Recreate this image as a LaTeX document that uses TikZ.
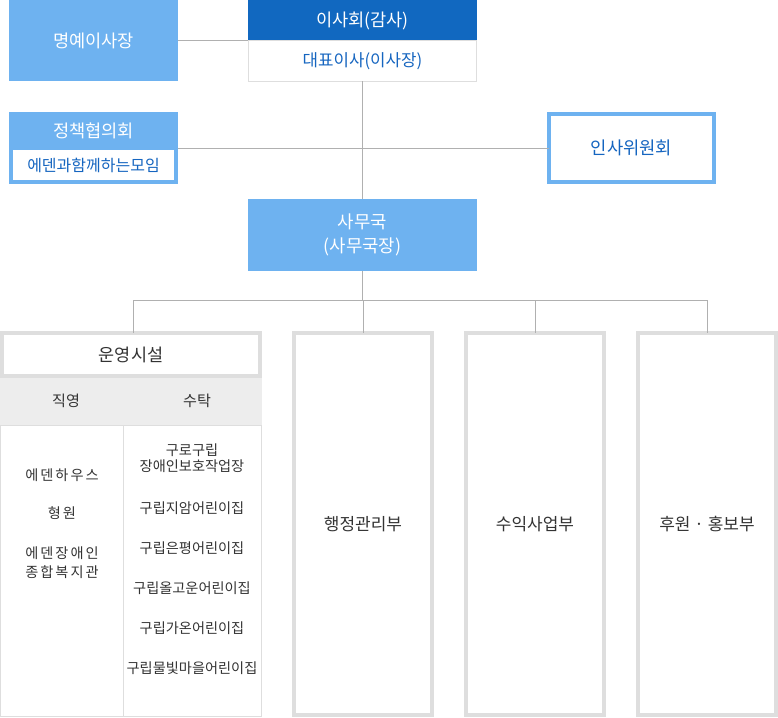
\documentclass[tikz,border=0pt]{standalone}
\usepackage{fontspec}
\setmainfont{Noto Sans CJK KR}
\definecolor{darkblue}{HTML}{1168C0}
\definecolor{lightblue}{HTML}{6EB2F0}
\definecolor{textblue}{HTML}{1565C0}
\definecolor{conn}{HTML}{B0B0B0}
\definecolor{boxgray}{HTML}{DEDEDE}
\definecolor{bandgray}{HTML}{EDEDED}
\definecolor{txt}{HTML}{333333}
\newcommand{\gp}{\hspace{2pt}}
\tikzset{
  base/.style={inner sep=0pt, outer sep=0pt, align=center},
  lbfill/.style={base, fill=lightblue, text=white, font=\fontsize{17.6}{21}\selectfont},
  dbfill/.style={base, fill=darkblue, text=white, font=\fontsize{17.6}{21}\selectfont},
  whitebox/.style={base, fill=white, draw=boxgray, line width=1pt, text=textblue, font=\fontsize{16.8}{20}\selectfont},
  thickbox/.style={base, fill=white, draw=boxgray, line width=4pt, text=txt, font=\fontsize{17}{20}\selectfont},
  bluebox/.style={base, fill=white, draw=lightblue, line width=4pt, text=textblue, font=\fontsize{17.7}{21}\selectfont},
  conline/.style={draw=conn, line width=1pt},
  cell/.style={base, text=txt, font=\fontsize{14.2}{17}\selectfont},
}
\begin{document}
\begin{tikzpicture}[x=1pt,y=-1pt]
\useasboundingbox (0,0) rectangle (778,717);
% top row
\node[lbfill, minimum width=169pt, minimum height=81pt] (myeong) at (93.5,40.5) {명예이사장};
\node[dbfill, minimum width=229pt, minimum height=41pt] (isa) at (362.5,20.5) {이사회(감사)};
\node[whitebox, minimum width=228pt, minimum height=40pt] (daepyo) at (362.5,61) {대표이사(이사장)};
% second row
\node[lbfill, minimum width=169pt, minimum height=72pt] (jeong) at (93.5,148) {};
\node[base, text=white, font=\fontsize{17.6}{21}\selectfont] (jeongt) at (93.5,131) {정책협의회};
\node[base, fill=white, text=textblue, font=\fontsize{16}{19}\selectfont, minimum width=161pt, minimum height=30pt] (eden) at (93.5,165) {에덴과함께하는모임};
\node[bluebox, minimum width=165pt, minimum height=68pt] (insa) at (631.5,148) {인사위원회};
% samu
\node[lbfill, minimum width=229pt, minimum height=72pt, font=\fontsize{17.8}{21}\selectfont] (samu) at (362.5,235) {사무국\\[3pt](사무국장)};
\coordinate (bus) at (362.5,300);
% connectors
\draw[conline] (myeong.east) -- (myeong.east -| isa.west);
\draw[conline] (jeong.east) -- (insa.west);
\draw[conline] (daepyo.south) -- (samu.north);
% dept boxes
\node[thickbox, minimum width=258pt, minimum height=43pt, font=\fontsize{17.5}{21}\selectfont] (unyeong) at (131,354.5) {운영시설};
\node[base, fill=bandgray, minimum width=262pt, minimum height=47pt] (band) at (131,401.5) {};
\node[cell, font=\fontsize{15.1}{18}\selectfont] (jik) at (66,401) {직영};
\node[cell, font=\fontsize{15.1}{18}\selectfont] (sutak) at (197,401) {수탁};
\node[base, draw=boxgray, line width=1pt, minimum width=261pt, minimum height=291pt] (lower) at (131,570.5) {};
\coordinate (divtop) at (123,425);
\draw[draw=boxgray, line width=1pt] (divtop) -- (divtop |- lower.south);
\node[cell] at (62,475) {에\gp 덴\gp 하\gp 우\gp 스};
\node[cell] at (62,513) {형\gp 원};
\node[cell, align=center] at (62,563) {에\gp 덴\gp 장\gp 애\gp 인\\[2pt]종\gp 합\gp 복\gp 지\gp 관};
\node[cell] at (192,458.5) {구로구립\\[-1pt]장애인보호작업장};
\node[cell] at (192,508) {구립지암어린이집};
\node[cell] at (192,548) {구립은평어린이집};
\node[cell] at (192,588) {구립올고운어린이집};
\node[cell] at (192,628) {구립가온어린이집};
\node[cell] at (192,668) {구립물빛마을어린이집};
\node[thickbox, minimum width=138pt, minimum height=382pt] (haeng) at (363,524) {행정관리부};
\node[thickbox, minimum width=138pt, minimum height=382pt] (suik) at (535,524) {수익사업부};
\node[thickbox, minimum width=138pt, minimum height=382pt] (huwon) at (707,524) {후원 · 홍보부};
% bus connectors
\draw[conline] (samu.south) -- (bus);
\draw[conline] ([xshift=2pt]unyeong.north |- bus) -- (huwon.north |- bus);
\draw[conline] ([xshift=2pt]unyeong.north |- bus) -- ([xshift=2pt]unyeong.north);
\draw[conline] (bus -| haeng.north) -- (haeng.north);
\draw[conline] (bus -| suik.north) -- (suik.north);
\draw[conline] (bus -| huwon.north) -- (huwon.north);
\end{tikzpicture}
\end{document}
